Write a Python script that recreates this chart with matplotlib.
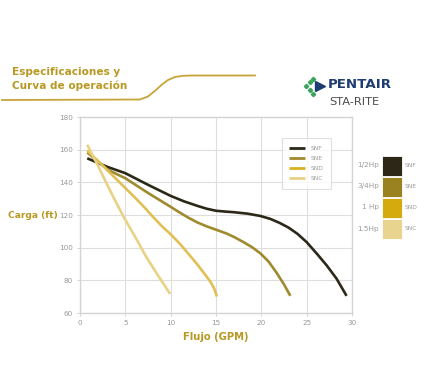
"""Pump performance curves (Especificaciones y Curva de operación)."""

import matplotlib

matplotlib.use("Agg")
import matplotlib.pyplot as plt
from matplotlib.patches import Rectangle

# curve points (flow GPM, head ft)
SNF_FLOW = [0.8, 3.0, 5.0, 7.5, 10.0, 11.5, 13.0, 14.0, 15.0, 16.0, 17.0, 18.5, 19.9,
            21.0, 22.0, 23.0, 24.0, 25.0, 26.2, 27.2, 28.3, 29.4]
SNF_HEAD = [154.7, 149.5, 145.6, 138.5, 131.7, 128.3, 125.5, 123.8, 122.6, 122.1, 121.7,
            120.8, 119.4, 117.6, 115.2, 112.3, 108.4, 103.4, 95.8, 89.2, 81.0, 70.5]
SNE_FLOW = [0.8, 3.1, 5.0, 7.5, 10.0, 11.0, 12.0, 13.0, 14.0, 15.0, 16.2, 17.0, 18.0,
            19.0, 19.9, 20.8, 21.7, 22.5, 23.2]
SNE_HEAD = [158.3, 147.6, 142.5, 133.5, 125.0, 121.5, 118.2, 115.3, 113.0, 111.0, 108.6,
            106.5, 103.5, 100.2, 96.5, 91.5, 84.5, 77.5, 70.5]
SND_FLOW = [0.8, 2.0, 3.0, 4.0, 5.0, 6.0, 7.0, 8.0, 9.0, 10.0, 11.0, 12.0, 13.0, 13.8,
            14.4, 14.8, 15.1]
SND_HEAD = [159.5, 153.0, 147.5, 142.0, 136.5, 131.0, 125.3, 119.2, 113.3, 108.2, 102.5,
            96.0, 89.3, 83.5, 79.0, 75.0, 70.1]
SNC_FLOW = [0.8, 2.0, 3.0, 4.0, 5.0, 6.2, 7.3, 8.6, 9.94]
SNC_HEAD = [163.0, 150.0, 138.5, 127.5, 117.0, 105.5, 94.4, 83.0, 71.7]

MODELS = ["SNF", "SNE", "SND", "SNC"]
POWER = ["1/2Hp", "3/4Hp", "1 Hp", "1.5Hp"]
LINE_COLORS = ["#2c2818", "#a08a2e", "#e0c055", "#e8d284"]
LEGEND_COLORS = ["#2c2818", "#a08a2e", "#d9b122", "#e8d284"]
SWATCH_COLORS = ["#2c2716", "#9b8220", "#d5aa0e", "#e8d48e"]

X_TICKS = [0, 5, 10, 15, 20, 25, 30]
Y_TICKS = [60, 80, 100, 120, 140, 160, 180]

GOLD = "#b99822"
GRID = "#dedede"
TICK_GRAY = "#9a9a9a"


def main() -> None:
    fig = plt.figure(figsize=(4.38, 3.84), dpi=100)
    fig.patch.set_facecolor("white")

    ax = fig.add_axes((80 / 438, 1 - 313 / 384, 272 / 438, 196 / 384))
    curves = [
        (SNF_FLOW, SNF_HEAD),
        (SNE_FLOW, SNE_HEAD),
        (SND_FLOW, SND_HEAD),
        (SNC_FLOW, SNC_HEAD),
    ]
    for (flow, head), color, name in zip(curves, LINE_COLORS, MODELS):
        ax.plot(flow, head, color=color, linewidth=1.9, label=name,
                solid_capstyle="butt", solid_joinstyle="round")

    ax.set_xlim(X_TICKS[0], X_TICKS[-1])
    ax.set_ylim(Y_TICKS[0], Y_TICKS[-1])
    ax.set_xticks(X_TICKS)
    ax.set_yticks(Y_TICKS)
    ax.grid(True, color=GRID, linewidth=0.8)
    ax.set_axisbelow(True)
    for spine in ax.spines.values():
        spine.set_color("#d4d4d4")
        spine.set_linewidth(1.0)
    ax.tick_params(labelsize=5.2, colors=TICK_GRAY, length=2, width=0.6,
                   pad=3)
    ax.tick_params(axis="both", color="#cccccc")

    ax.set_xlabel("Flujo (GPM)", color=GOLD, fontsize=7.2, fontweight="bold",
                  labelpad=4)
    fig.text(8 / 438, 1 - 215 / 384, "Carga (ft)", color=GOLD, fontsize=6.6,
             fontweight="bold", va="center", ha="left")

    leg = ax.legend(loc="upper left", bbox_to_anchor=(0.741, 0.893),
                    fontsize=4.3, handlelength=2.6, labelspacing=0.8,
                    borderpad=1.3, handletextpad=1.0, borderaxespad=0,
                    frameon=True, fancybox=False, labelcolor=TICK_GRAY)
    leg.get_frame().set_edgecolor("#d8d8d8")
    leg.get_frame().set_linewidth(0.8)
    for line, color in zip(leg.get_lines(), LEGEND_COLORS):
        line.set_linewidth(2.0)
        line.set_color(color)

    # power swatches on the right
    for i, (power, model, color) in enumerate(zip(POWER, MODELS, SWATCH_COLORS)):
        top = 156 + i * 21
        fig.patches.append(Rectangle((382 / 438, 1 - (top + 19.5) / 384),
                                     20 / 438, 19.5 / 384, facecolor=color,
                                     edgecolor="white", linewidth=0.6,
                                     transform=fig.transFigure))
        yc = 1 - (top + 9.5) / 384
        fig.text(379 / 438, yc, power, fontsize=5.2, color=TICK_GRAY,
                 ha="right", va="center")
        fig.text(405 / 438, yc, model, fontsize=4.3, color=TICK_GRAY,
                 ha="left", va="center")

    # header
    fig.text(12 / 438, 1 - 72 / 384, "Especificaciones y", color=GOLD,
             fontsize=7.6, fontweight="bold", va="center")
    fig.text(12 / 438, 1 - 86 / 384, "Curva de operación", color=GOLD,
             fontsize=7.6, fontweight="bold", va="center")
    hx = [2, 140, 148, 156, 162, 168, 175, 183, 192, 255]
    hy = [100, 99.5, 96.5, 90, 84.5, 80, 77, 75.8, 75.5, 75.5]
    fig.lines.append(plt.Line2D([v / 438 for v in hx], [1 - v / 384 for v in hy],
                                color="#c7a43a", linewidth=1.3,
                                transform=fig.transFigure))

    # logo
    fig.text(328 / 438, 1 - 85 / 384, "PENTAIR", color="#1f3d73", fontsize=9.6,
             fontweight="bold", va="center", ha="left")
    fig.text(329 / 438, 1 - 102 / 384, "STA-RITE", color="#4a4a4a", fontsize=8.2,
             va="center", ha="left")
    fig.lines.append(plt.Line2D([320 / 438], [1 - 86 / 384], marker=">",
                                markersize=7.5, color="#1f3d73", linestyle="none",
                                transform=fig.transFigure))
    dots_x = [306, 309.5, 309.5, 313, 313]
    dots_y = [86, 82, 90, 78.5, 93.5]
    fig.lines.append(plt.Line2D([v / 438 for v in dots_x], [1 - v / 384 for v in dots_y],
                                marker="D", markersize=2.2, color="#3aa35a",
                                linestyle="none", transform=fig.transFigure))

    fig.savefig("out.png", dpi=100)
    plt.close(fig)


if __name__ == "__main__":
    main()
